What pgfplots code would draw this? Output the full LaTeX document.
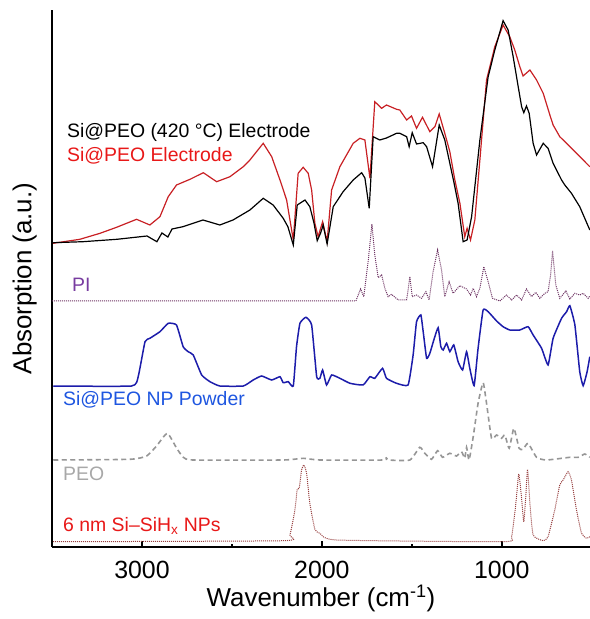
\documentclass[border=0pt]{standalone}
\usepackage{fontspec}
\setmainfont{Liberation Sans}
\usepackage{pgfplots}
\pgfplotsset{compat=1.18}
\definecolor{cblack}{RGB}{0,0,0}
\definecolor{cred}{RGB}{200,32,36}
\definecolor{cpi}{RGB}{110,52,100}
\definecolor{cblue}{RGB}{28,28,170}
\definecolor{cpeo}{RGB}{150,150,150}
\definecolor{csih}{RGB}{150,62,62}
\definecolor{lred}{RGB}{232,24,24}
\definecolor{lpi}{RGB}{120,60,160}
\definecolor{lblue}{RGB}{30,86,224}
\definecolor{lpeo}{RGB}{168,168,168}
\tikzset{lab/.style={anchor=base west, inner sep=0pt, font=\fontsize{19.5}{22}\selectfont}}
\begin{document}
\begin{tikzpicture}
\begin{axis}[
  at={(0,0)}, anchor=south west,
  scale only axis, width=538bp, height=537bp,
  x dir=reverse, xmin=510, xmax=3500, ymin=0, ymax=537,
  axis x line*=bottom, axis y line*=left,
  axis line style={line width=2bp, -},
  xtick={1000,2000,3000}, minor xtick={1500,2500}, ytick=\empty,
  tick align=inside, major tick length=6bp, minor tick length=3bp,
  every tick/.style={black, line width=1.6bp},
  /pgf/number format/assume math mode=true,
  /pgf/number format/1000 sep={},
  xticklabel style={font=\fontsize{25}{28}\selectfont, inner sep=0pt, yshift=-14bp},
  xlabel={Wavenumber (cm\textsuperscript{-1})},
  ylabel={Absorption (a.u.)},
  xlabel style={font=\fontsize{26}{30}\selectfont, inner sep=0pt, at={(axis description cs:0.5,-0.071)}, anchor=north},
  ylabel style={font=\fontsize{26}{30}\selectfont, inner sep=0pt, at={(axis description cs:-0.028,0.5)}, anchor=south},
]
% 6 nm Si-SiHx NPs
\addplot[csih, line width=1bp, dash pattern=on 1bp off 1bp, smooth, tension=0.3] table {
3494 5.3
2215 6.3
2178 12
2150 37
2137 57.7
2126 58.7
2113 77
2100 82
2085 73.7
2067 43.7
2039 17.7
2011 13.7
1918 7
993 5.3
946 10.3
922 43.7
906 73
891 50.3
878 25.3
867 50.3
857 77.7
844 43.7
826 12
770 6.3
743 10.3
706 37
678 62
659 67
632 75.3
613 67
585 37
557 13.7
529 8.7
511 10.3
};
% PEO
\addplot[cpeo, line width=1.6bp, dash pattern=on 5bp off 3.5bp, smooth, tension=0.3] table {
3493 87
3067 87.7
2974 91
2919 101
2859 113.7
2807 98.7
2770 89.7
2715 87
2215 87
2104 88.7
2011 87
1659 87
1644 89.7
1629 87
1511 87
1456 99.7
1428 93.7
1391 87.7
1357 96.3
1329 89.7
1289 93.7
1252 91
1224 95.3
1206 88.7
1196 99.7
1182 87
1159 110.3
1132 143.7
1104 164.3
1085 143.7
1057 108.7
1029 112
1002 108.7
983 112
959 98.7
933 118.7
904 98.7
882 97.7
854 103.7
807 89.7
752 87
622 89.7
576 89.7
539 93
511 89.7
};
% Si@PEO NP powder
\addplot[cblue, line width=1.5bp, smooth, tension=0.25] table {
3493 161
3058 161
3021 170.3
2983 205.3
2956 208.7
2900 215.3
2854 223.7
2808 222
2771 200.3
2743 195.3
2715 192
2668 172
2622 165.3
2567 161
2437 161
2382 167
2335 171
2279 167
2233 170.3
2215 164.3
2187 165.3
2159 161
2141 200.3
2122 223.7
2089 229.7
2057 222
2029 170.3
2011 168.7
1996 177
1974 162
1946 172
1900 168.7
1844 163.7
1771 162
1733 170.3
1706 168.7
1663 178.7
1641 168.7
1585 163.7
1521 162
1493 192
1474 225.3
1450 232
1437 215.3
1418 188.7
1400 193.7
1378 207
1354 219.3
1339 200.3
1326 197
1307 203.7
1289 195.3
1267 202
1243 185.3
1218 177
1196 195.3
1178 178.7
1154 161.3
1132 198.7
1104 237
1076 235.3
1029 226
993 220.3
956 217
900 217
854 220.3
826 212
779 198.7
743 182
715 208.7
668 228.7
640 235.3
622 241.3
594 222
567 175.3
548 161.3
526 175.3
511 190.3
};
% PI
\addplot[cpi, line width=1bp, dash pattern=on 1bp off 1bp] table {
3500 246
1811 246
1785 258
1767 250.3
1743 285.3
1722 322.7
1706 292
1687 269.3
1668 272
1650 258.7
1632 250.3
1613 252.7
1576 247
1529 247
1511 270.3
1498 250.3
1474 252
1446 248.7
1422 255.3
1404 247
1382 275.3
1357 297
1335 277
1317 250.3
1293 265.3
1271 253.7
1233 261.3
1196 258
1174 252
1159 258.7
1141 250.3
1122 258.7
1100 280.3
1076 265.3
1052 248.7
1011 246
974 252
946 247
918 252
890 247
863 258
835 250.3
811 254.7
789 248.7
761 253.7
743 255.3
729 272
718 296
700 262
678 248.7
644 256
622 248
594 253.7
567 252
548 253.7
520 248.7
511 251
};
% Si@PEO electrode (red)
\addplot[cred, line width=1.2bp] table {
3494 303.7
3345 307.7
3233 313.7
3141 319.7
3030 327.7
2956 322
2900 330.3
2854 350.3
2808 362
2733 367.7
2659 374.3
2585 365.3
2511 370.3
2437 380.3
2400 387
2326 403.7
2279 390.3
2233 367
2196 347
2159 307
2132 373.7
2104 379.7
2076 373.7
2057 357
2039 323.7
2021 310.3
1996 325.3
1971 305.3
1946 357
1900 380.3
1826 403.7
1789 408.7
1761 407
1733 368.7
1706 445.3
1668 438.7
1641 442
1585 437.7
1567 437
1529 427
1502 431
1474 418.7
1441 429.7
1400 415.3
1372 420.3
1348 433
1317 413.7
1289 395.3
1261 367
1233 343.7
1206 310.3
1193 318.7
1174 307
1150 327
1122 387
1085 467
1039 500.3
993 522
956 510.3
928 497
900 480.3
882 471
844 477
807 467
770 453.7
733 432
715 422
678 410.3
640 403.7
585 393.7
511 380.3
};
% Si@PEO (420 C) electrode (black)
\addplot[cblack, line width=1.2bp] table {
3493 304.3
3328 305.3
3139 307.7
2972 311
2917 305.3
2889 314
2856 310
2833 318
2772 320.3
2661 327
2567 322
2494 327
2400 337
2326 348.7
2271 342
2215 328.7
2189 320.3
2159 302
2137 342
2094 347
2067 340.3
2044 324
2026 306.3
2007 314
1993 322
1971 303
1937 340.3
1882 355.3
1826 367
1779 374.3
1761 369
1737 338.7
1715 410.3
1678 407
1641 409
1585 413.7
1567 413.7
1529 410.3
1515 400.3
1498 414.3
1474 403
1437 404.3
1418 400.3
1385 380.3
1348 422
1317 407
1289 383.7
1267 365.3
1243 343.7
1215 305.3
1193 307
1168 330.3
1122 407
1076 470.3
1039 497
993 526.3
965 517
937 490.3
909 460.3
890 440.3
878 434.3
863 441
848 433.7
826 403.7
807 392
770 403.7
743 398.7
715 383.7
668 367
650 362
613 353.7
567 340.3
511 317
};
\node[lab, black] at (axis cs:3417,409.5) {Si@PEO (420 °C) Electrode};
\node[lab, lred] at (axis cs:3417,385) {Si@PEO Electrode};
\node[lab, lpi] at (axis cs:3389,255) {PI};
\node[lab, lblue] at (axis cs:3439,141) {Si@PEO NP Powder};
\node[lab, lpeo] at (axis cs:3439,67) {PEO};
\node[lab, lred] at (axis cs:3439,15.3) {6 nm Si–SiH\textsubscript{x} NPs};
\end{axis}
\pgfresetboundingbox
\useasboundingbox (-52bp,-72bp) rectangle (538bp,547bp);
\end{tikzpicture}
\end{document}
